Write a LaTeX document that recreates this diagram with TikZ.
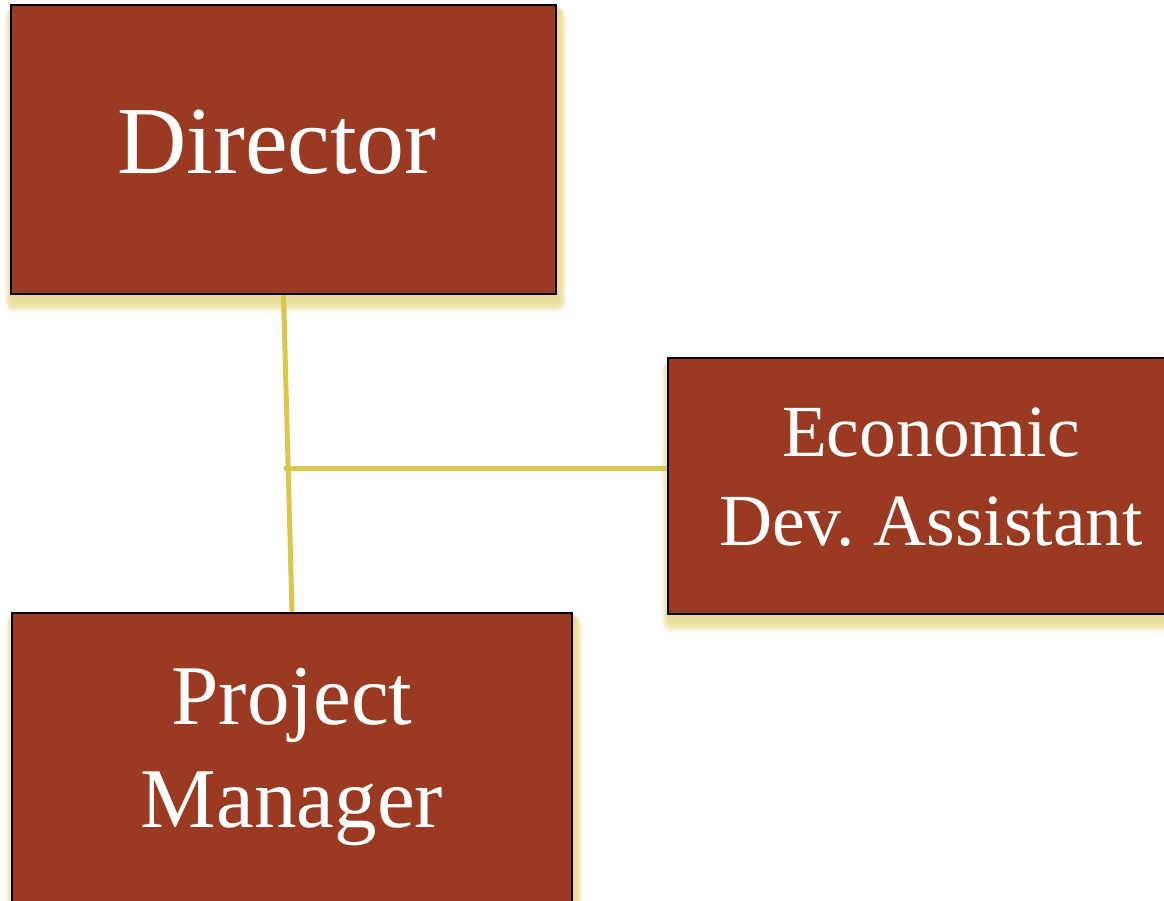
\documentclass[tikz,border=0pt]{standalone}
\usepackage{fontspec}
\setmainfont{Liberation Serif}
\usetikzlibrary{backgrounds}
\definecolor{boxfill}{HTML}{9A3A22}
\definecolor{linkcol}{HTML}{DCC650}
\definecolor{glowcol}{HTML}{E2D27A}
\tikzset{
  orgbox/.style={draw=black, line width=2.2pt, fill=boxfill, inner sep=0pt},
  boxtext/.style={text=white, align=center, inner sep=0pt},
  link/.style={draw=linkcol, line width=5pt},
}
\newcommand{\glowbox}[1]{%
  \foreach \r in {1,...,12}{%
    \fill[glowcol, opacity=0.1, rounded corners=\r pt]
      ([shift={(-\r pt*0.6+2pt,-\r pt-6pt)}]#1.south west) rectangle
      ([shift={(\r pt*0.6+2pt,\r pt*0.3-6pt)}]#1.north east);
  }%
}
\begin{document}
\frenchspacing
\begin{tikzpicture}[x=1pt,y=1pt]
\useasboundingbox (0,0) rectangle (1164,901);
\node[orgbox, minimum width=545pt, minimum height=289pt] (dir) at (283.5,751.5) {};
\node[orgbox, minimum width=524pt, minimum height=256pt] (eco) at (930,415) {};
\node[orgbox, minimum width=560pt, minimum height=300pt] (pm) at (292,138) {};
\begin{scope}[on background layer]
  \glowbox{dir}
  \glowbox{eco}
  \glowbox{pm}
\end{scope}
\node[boxtext, font=\fontsize{96}{110}\selectfont, anchor=base] (dirt) at (277,727) {Director};
\node[boxtext, font=\fontsize{73.5}{89}\selectfont, anchor=base] (ecot) at (931,355) {Economic\\Dev. Assistant};
\node[boxtext, font=\fontsize{85}{103}\selectfont, anchor=base] (pmt) at (292,73) {Project\\Manager};
\coordinate (j) at (284,432);
\draw[link] (dir.south) -- (pm.north);
\draw[link] (j) -- (j -| eco.west);
\end{tikzpicture}
\end{document}
